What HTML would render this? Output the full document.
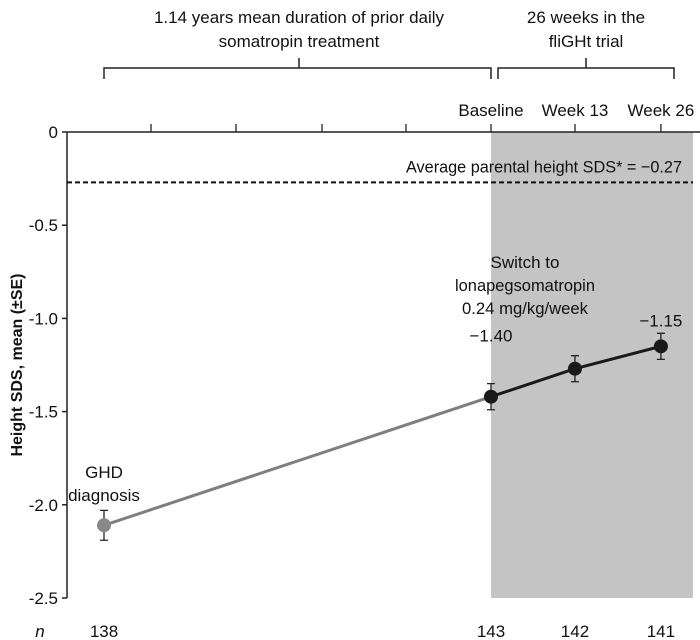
<!DOCTYPE html>
<html><head><meta charset="utf-8"><style>
body{margin:0;background:#fff;}
svg{display:block;font-family:"Liberation Sans",sans-serif;}
text{fill:#111;}
</style></head><body>
<svg id="chart" width="700" height="640" viewBox="0 0 700 640"></svg>
<script>
const categories = ["GHD diagnosis","Baseline","Week 13","Week 26"];
const xPos = [0, 1, 1.217, 1.439];
const means = [-2.11, -1.42, -1.27, -1.15];
const errs = [0.08, 0.07, 0.07, 0.07];
const valueLabels = ["", "\u22121.40", "", "\u22121.15"];
const nValues = ["138","143","142","141"];
const yTicks = [0, -0.5, -1.0, -1.5, -2.0, -2.5];
const yTickLabels = ["0","-0.5","-1.0","-1.5","-2.0","-2.5"];
const parentalSDS = -0.27;

const svg = document.getElementById('chart');
const NS = 'http://www.w3.org/2000/svg';
const X0 = 104, X1 = 491;
const xs = t => X0 + t * (X1 - X0);
const ys = v => 132 + (-v) * 186.4;
const labelOffset = i => (i === 1 ? 55 : 20);
function mk(tag, attrs, parent){const e=document.createElementNS(NS,tag);for(const k in attrs)e.setAttribute(k,attrs[k]);(parent||svg).appendChild(e);return e;}
function txt(x,y,s,size,anchor,extra){const e=mk('text',Object.assign({x:x,y:y,'font-size':size,'text-anchor':anchor||'middle'},extra||{}));e.textContent=s;return e;}

let r = mk('rect',{x:xs(1),y:ys(0),width:693-xs(1),height:ys(-2.5)-ys(0),fill:'#c4c4c4'});



let ya = mk('line',{x1:67,y1:ys(0),x2:67,y2:ys(-2.5),stroke:'#222','stroke-width':1.5});


yTicks.forEach((v,i)=>{
  mk('line',{x1:62,y1:ys(v),x2:67,y2:ys(v),stroke:'#222','stroke-width':1.5});
  let t = txt(58,ys(v)+6,yTickLabels[i],17,'end');
  
  
});
let yt = txt(0,0,'Height SDS, mean (\u00b1SE)',16,'middle',{transform:'translate(22,365) rotate(-90)','font-weight':'bold'});



let ta = mk('line',{x1:67,y1:ys(0),x2:700,y2:ys(0),stroke:'#222','stroke-width':1.5});


[151,236,322,406].forEach(x=>mk('line',{x1:x,y1:ys(0)-8,x2:x,y2:ys(0),stroke:'#222','stroke-width':1.3}));
[1,2,3].forEach(i=>{
  mk('line',{x1:xs(xPos[i]),y1:ys(0)-8,x2:xs(xPos[i]),y2:ys(0),stroke:'#222','stroke-width':1.3});
  let t=txt(xs(xPos[i]),116,categories[i],17,'middle');
  
  
});

let b1 = mk('path',{d:'M104,79 V68 H491 V79 M299,68 V58',fill:'none',stroke:'#222','stroke-width':1.5});


let b2 = mk('path',{d:'M498,79 V68 H674 V79 M586,68 V58',fill:'none',stroke:'#222','stroke-width':1.5});


txt(299,23,'1.14 years mean duration of prior daily',17);
txt(299,47,'somatropin treatment',17);
txt(586,23,'26 weeks in the',17);
txt(586,47,'fliGHt trial',17);

let d = mk('line',{x1:67,y1:ys(parentalSDS),x2:693,y2:ys(parentalSDS),stroke:'#111','stroke-width':2,'stroke-dasharray':'5,3'});


let dl = txt(682,ys(parentalSDS)-10,'Average parental height SDS* = \u22120.27',17,'end',{textLength:276,lengthAdjust:'spacingAndGlyphs'});



let l1 = mk('line',{x1:xs(xPos[0]),y1:ys(means[0]),x2:xs(xPos[1]),y2:ys(means[1]),stroke:'#7f7f7f','stroke-width':3});


let p = mk('polyline',{points:[1,2,3].map(i=>xs(xPos[i])+','+ys(means[i])).join(' '),fill:'none',stroke:'#1a1a1a','stroke-width':3});



means.forEach((m,i)=>{
  const x=xs(xPos[i]), col=i===0?'#888':'#1a1a1a';
  mk('path',{d:`M${x},${ys(m+errs[i])} V${ys(m-errs[i])} M${x-4},${ys(m+errs[i])} H${x+4} M${x-4},${ys(m-errs[i])} H${x+4}`,stroke:'#222','stroke-width':1.3,fill:'none'});
  let c = mk('circle',{cx:x,cy:ys(m),r:7,fill:col});
  
  
  if(valueLabels[i]){
    let t=txt(x,ys(m)-labelOffset(i),valueLabels[i],17);
    
    
  }
  let n=txt(x,637,nValues[i],17);
  
  
});
txt(40,637,'n',17,'middle',{'font-style':'italic'});
txt(104,478,'GHD',17);
txt(104,501,'diagnosis',17);
txt(525,268,'Switch to',17);
txt(525,291,'lonapegsomatropin',17,'middle',{textLength:140,lengthAdjust:'spacingAndGlyphs'});
txt(525,314,'0.24 mg/kg/week',17,'middle',{textLength:126,lengthAdjust:'spacingAndGlyphs'});
</script>
</body></html>
